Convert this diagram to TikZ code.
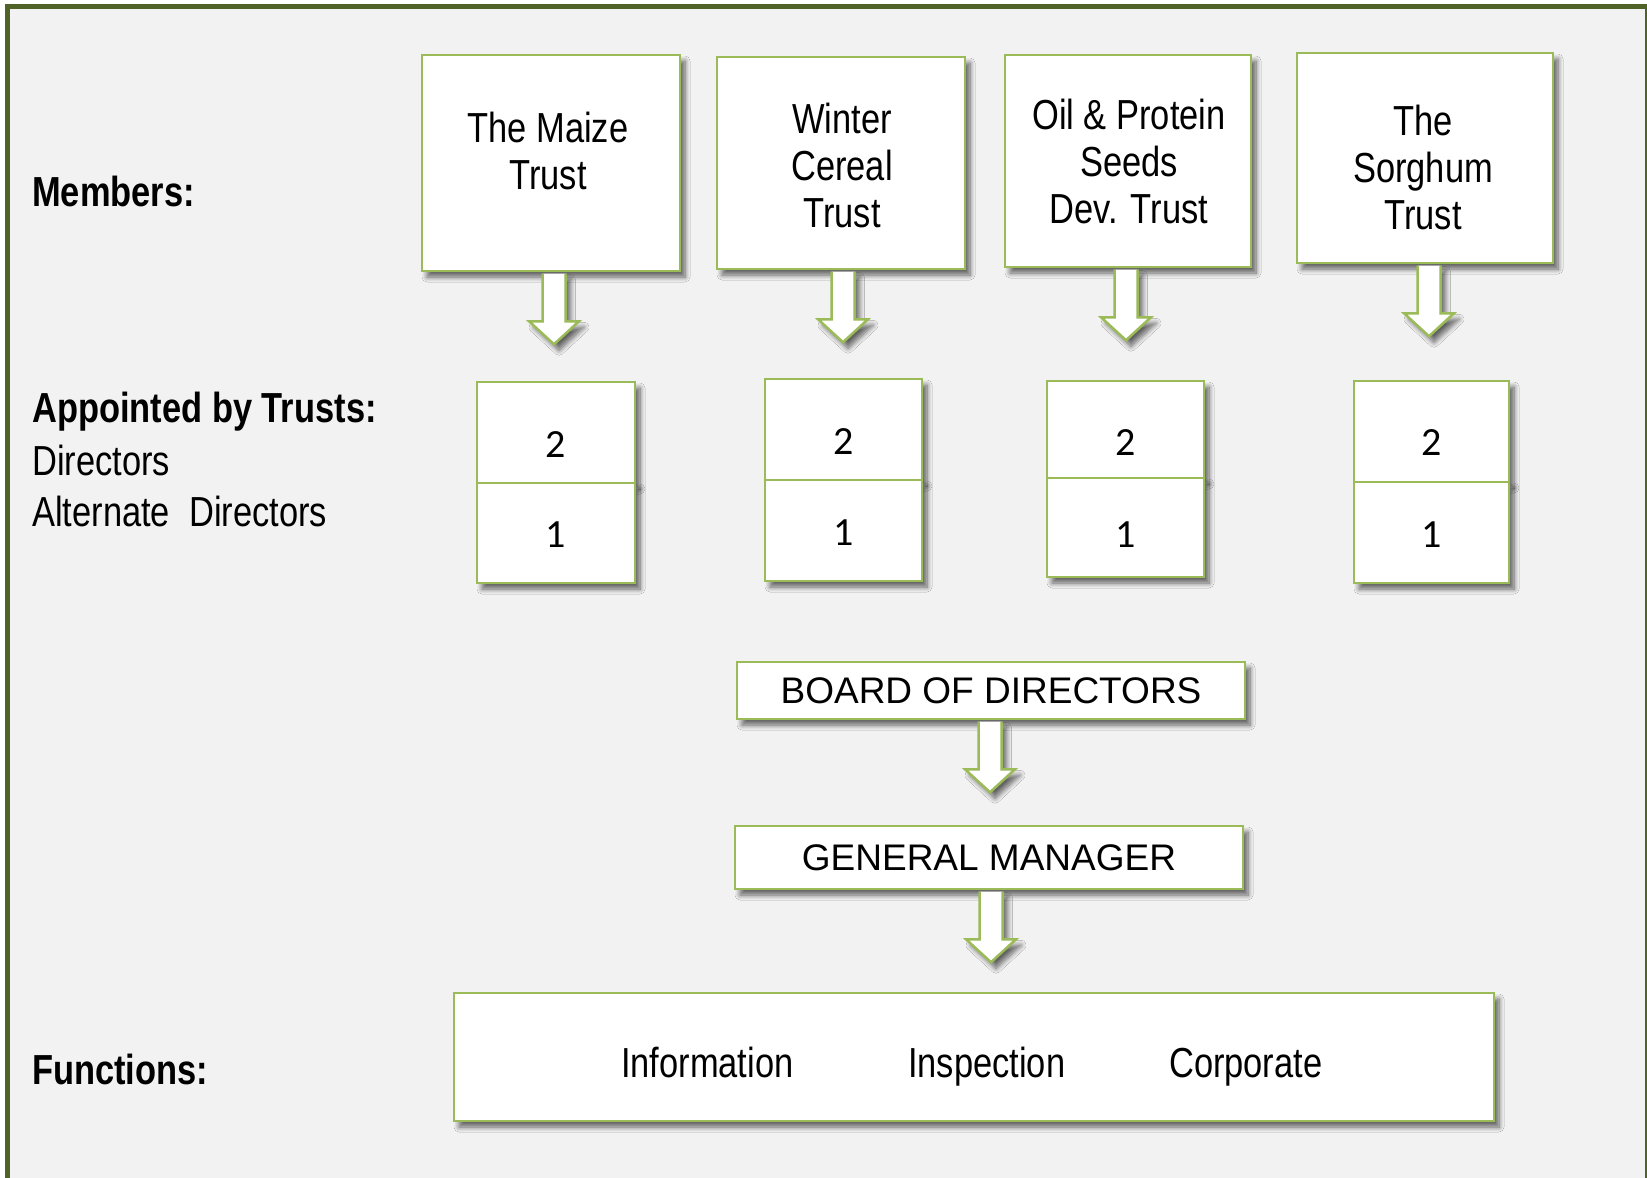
\documentclass[tikz,border=0pt]{standalone}
\usepackage{fontspec}
\setmainfont{Liberation Sans}
\newfontfamily\narrowfont[FakeStretch=0.82]{Liberation Sans}
\newfontfamily\calfont{Carlito}
\usetikzlibrary{shadows.blur}
\definecolor{boxgreen}{HTML}{9BBB59}
\definecolor{frameolive}{HTML}{4F6228}
\definecolor{bggray}{HTML}{F2F2F2}
\tikzset{
  shadowed/.style={blur shadow={shadow xshift=5pt,shadow yshift=-6pt,shadow blur steps=8,shadow blur radius=5pt,shadow opacity=60}},
  greenbox/.style={rectangle,draw=boxgreen,line width=2.5pt,fill=white,shadowed,inner sep=0pt},
  boxtext/.style={font=\narrowfont\fontsize{42}{47}\selectfont,align=center,inner sep=0pt},
  sidetext/.style={font=\narrowfont\fontsize{42}{47}\selectfont,anchor=base west,inner sep=0pt},
  sidebold/.style={font=\narrowfont\bfseries\fontsize{42}{47}\selectfont,anchor=base west,inner sep=0pt},
  numbox/.style={greenbox,font=\calfont\fontsize{40}{44}\selectfont,text depth=0pt},
  capbox/.style={greenbox,font=\fontsize{37}{40}\selectfont,minimum width=508pt},
  downarrow/.pic={
     \fill[white,shadowed] (-11.5,1.3) -- (11.5,1.3) -- (11.5,49) -- (25,49) -- (0,72) -- (-25,49) -- (-11.5,49) -- cycle;
     \draw[boxgreen,line width=2.5pt,line join=miter] (-11.5,1.3) -- (-11.5,49) -- (-25,49) -- (0,72) -- (25,49) -- (11.5,49) -- (11.5,1.3);}
}
\begin{document}
\begin{tikzpicture}[x=1pt,y=-1pt]
\useasboundingbox (0,0) rectangle (1647,1178);
\fill[white] (0,0) rectangle (1647,1178);
\draw[frameolive,line width=5pt,fill=bggray] (7.5,6.5) rectangle (1647.5,1200);

% trust boxes
\node[greenbox,minimum width=258pt,minimum height=216pt] (maize) at (551,163) {};
\node[greenbox,minimum width=248pt,minimum height=212pt] (winter) at (841,163) {};
\node[greenbox,minimum width=246pt,minimum height=212pt] (oil) at (1128,161) {};
\node[greenbox,minimum width=256pt,minimum height=210pt] (sorghum) at (1425,158) {};
\node[boxtext] (maizeT) at (548,151) {The Maize\\Trust};
\node[boxtext] (winterT) at (842,165) {Winter\\Cereal\\Trust};
\node[boxtext] (oilT) at (1129,161) {Oil \& Protein\\Seeds\\Dev. Trust};
\node[boxtext] (sorghumT) at (1423,167) {The\\Sorghum\\Trust};

% director boxes
\node[numbox,minimum width=158pt,minimum height=101pt,text height=49pt] (m2) at (556,432.5) {2};
\node[numbox,minimum width=158pt,minimum height=100pt,text height=29pt] (m1) at (556,533) {1};
\node[numbox,minimum width=157pt,minimum height=101pt,text height=50pt] (w2) at (843.5,429.5) {2};
\node[numbox,minimum width=157pt,minimum height=101pt,text height=30pt] (w1) at (843.5,530.5) {1};
\node[numbox,minimum width=157pt,minimum height=97pt,text height=52pt] (o2) at (1125.5,429.5) {2};
\node[numbox,minimum width=157pt,minimum height=99pt,text height=40pt] (o1) at (1125.5,527.5) {1};
\node[numbox,minimum width=155pt,minimum height=101pt,text height=48pt] (s2) at (1431.5,431.5) {2};
\node[numbox,minimum width=155pt,minimum height=101pt,text height=30pt] (s1) at (1431.5,532.5) {1};

% board, manager, functions
\node[capbox,minimum height=57pt] (board) at (991,690.5) {BOARD OF DIRECTORS};
\node[capbox,minimum height=63pt] (gm) at (989,857.5) {GENERAL MANAGER};
\node[greenbox,minimum width=1040pt,minimum height=128pt] (functions) at (974,1057) {};
\node[sidetext] (info) at (621,1077) {Information};
\node[sidetext] (insp) at (908,1077) {Inspection};
\node[sidetext] (corp) at (1169,1077) {Corporate};

% arrows
\pic at ([xshift=3pt]maize.south) {downarrow};
\pic at ([xshift=2pt]winter.south) {downarrow};
\pic at ([xshift=-2pt]oil.south) {downarrow};
\pic at ([xshift=4pt]sorghum.south) {downarrow};
\pic at ([xshift=-1pt]board.south) {downarrow};
\pic at ([xshift=2pt]gm.south) {downarrow};

% side labels
\node[sidebold] (members) at (32,206) {Members:};
\node[sidebold] (appointed) at (32,422) {Appointed by Trusts:};
\node[sidetext] (directors) at (32,475) {Directors};
\node[sidetext] (alternate) at (32,526) {Alternate\ \ Directors};
\node[sidebold] (functionsL) at (32,1084) {Functions:};
\end{tikzpicture}
\end{document}
